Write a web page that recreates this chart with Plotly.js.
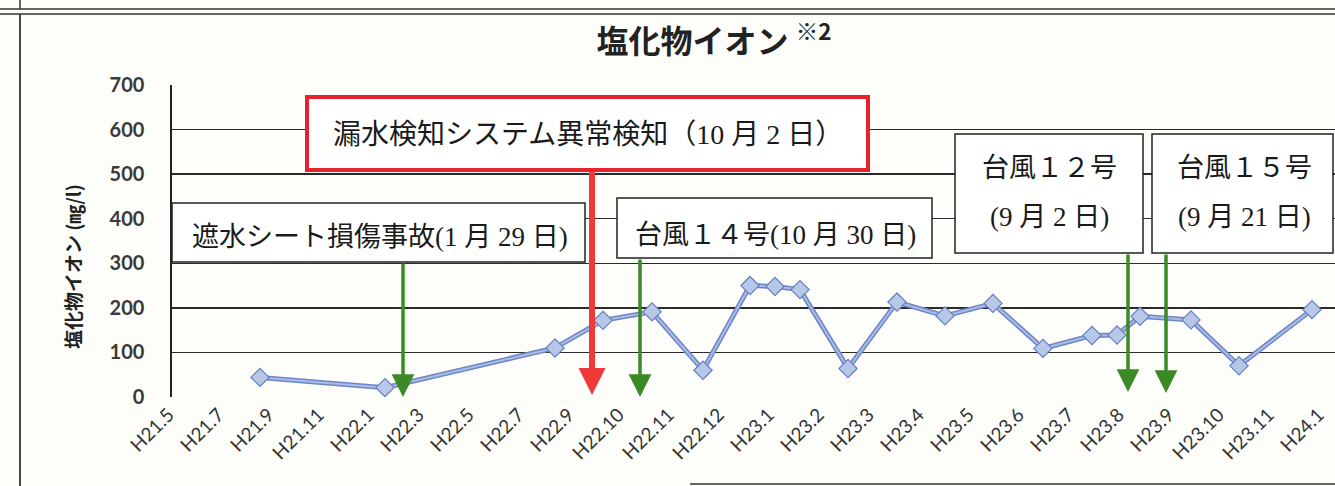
<!DOCTYPE html>
<html>
<head>
<meta charset="utf-8">
<script src="https://cdn.plot.ly/plotly-3.0.1.min.js"></script>
<style>
html,body{margin:0;padding:0;background:#fdfdfa;overflow:hidden;}
#chart{width:1335px;height:486px;}
</style>
</head>
<body>
<div id="chart"></div>
<script>
// ---- data ----
const tickLabels = ['H21.5','H21.7','H21.9','H21.11','H22.1','H22.3','H22.5','H22.7','H22.9','H22.10','H22.11','H22.12','H23.1','H23.2','H23.3','H23.4','H23.5','H23.6','H23.7','H23.8','H23.9','H23.10','H23.11','H24.1'];
// sample positions along the category axis (label index units)
const samplePos = [1.75, 4.25, 7.65, 8.61, 9.59, 10.61, 11.55, 12.05, 12.55, 13.51, 14.49, 15.45, 16.41, 17.41, 18.39, 18.89, 19.35, 20.37, 21.33, 22.79];
// chloride ion (mg/l)
const chloride = [44, 21, 110, 172, 191, 60, 250, 248, 241, 64, 213, 182, 210, 109, 138, 139, 181, 173, 70, 196];
const titleText = '塩化物イオン <sup>※2</sup>';
const yTitle = '塩化物イオン (㎎/l)';
const eventLine1 = ['遮水シート損傷事故(1 月 29 日)', '漏水検知システム異常検知（10 月 2 日）', '台風１４号(10 月 30 日)', '台風１２号', '台風１５号'];
const eventLine2 = ['', '', '', '(9 月 2 日)', '(9 月 21 日)'];

// ---- layout geometry (pixels) ----
const W = 1335, Hh = 486;
const L = 172, R = 1335, T = 85, B = 397;
const PW = R - L, PH = B - T;
const P = px => (px - L) / PW;
const Q = py => (B - py) / PH;
const idx = px => (px - 172.5) / 50;

const serif = 'Liberation Serif, Noto Sans CJK JP, serif';
const cjk = 'Noto Sans CJK JP, sans-serif';

const under = {
  x: samplePos, y: chloride, type: 'scatter', mode: 'lines',
  line: {color: '#6f86c6', width: 5},
  hoverinfo: 'skip', showlegend: false
};
const trace = {
  x: samplePos, y: chloride, type: 'scatter', mode: 'lines+markers',
  line: {color: '#a9bce8', width: 2},
  marker: {symbol: 'diamond', size: 14, color: '#b7c7e8', line: {color: '#6580c2', width: 1.2}},
  hoverinfo: 'skip', showlegend: false
};

function box(x0, y0, x1, y1, color, w) {
  return {type:'rect', xref:'paper', yref:'paper', x0:P(x0), x1:P(x1), y0:Q(y1), y1:Q(y0),
    fillcolor:'#ffffff', line:{color:color, width:w}, layer:'above'};
}
function line(x0, y0, x1, y1, w) {
  return {type:'line', xref:'paper', yref:'paper', x0:P(x0), x1:P(x1), y0:Q(y0), y1:Q(y1),
    line:{color:'#333', width:w}, layer:'above'};
}
const shapes = [
  line(0, 9, 1335, 9, 1.5),
  line(0, 14, 1335, 14, 1.5),
  line(20, 0, 20, 9, 1.5),
  line(20, 14, 20, 486, 1.8),
  line(690, 484, 1335, 484, 1.5),
  box(172, 203, 585, 262, '#222', 1.5),
  box(307, 97, 868, 170, '#e8222c', 4),
  box(617, 198, 932, 258, '#222', 1.5),
  box(955, 134, 1143, 253, '#222', 1.5),
  box(1152, 134, 1333, 253, '#222', 1.5)
];

function label(text, cx, cy, size) {
  return {xref:'paper', yref:'paper', x:P(cx), y:Q(cy), xanchor:'center', yanchor:'middle',
    text:text, showarrow:false, font:{family:serif, size:size, color:'#1a1a1a'}};
}
function arrow(px, y0, y1, color, width, size) {
  return {xref:'paper', yref:'paper', x:P(px), y:Q(y1), ax:0, ay:-(y1 - y0), text:'',
    showarrow:true, arrowhead:2, arrowsize:size, arrowwidth:width, arrowcolor:color, standoff:0};
}
const annotations = [
  label(eventLine1[0], 380, 237, 27),
  label(eventLine1[1], 588, 134, 28),
  label(eventLine1[2], 775, 235, 27),
  label(eventLine1[3], 1049, 168, 27),
  label(eventLine2[3], 1049, 217, 27),
  label(eventLine1[4], 1244, 168, 27),
  label(eventLine2[4], 1244, 217, 27),
  arrow(403, 262, 397, '#3b8a27', 3.5, 1.3),
  arrow(592, 170, 395, '#f03a3a', 6, 0.9),
  arrow(640, 258, 397, '#3b8a27', 3.5, 1.3),
  arrow(1128, 253, 392, '#3b8a27', 3.5, 1.3),
  arrow(1166, 253, 393, '#3b8a27', 3.5, 1.3),
  {xref:'paper', yref:'paper', x:P(72), y:Q(267), xanchor:'center', yanchor:'middle', text:yTitle,
   textangle:-90, showarrow:false, font:{family:cjk, size:19, weight:'bold', color:'#222'}}
];

const layout = {
  width: W, height: Hh,
  margin: {l: L, r: W - R, t: T, b: Hh - B, pad: 0},
  paper_bgcolor: '#fdfdfa', plot_bgcolor: '#fdfdfa',
  title: {text: titleText, x: 714 / W, xref: 'container', xanchor: 'center',
          y: 1 - 42 / Hh, yref: 'container', yanchor: 'middle',
          font: {family: cjk, size: 32, weight: 'bold', color: '#222'}},
  xaxis: {range: [idx(L), idx(R)], tickmode: 'array',
          tickvals: tickLabels.map((_, i) => i), ticktext: tickLabels,
          tickangle: -45, showgrid: false, zeroline: false, showline: false, ticks: '',
          tickfont: {family: 'Lato, Open Sans, sans-serif', size: 19, color: '#333'},
          ticklabelstandoff: 2, ticklabelshift: -4, fixedrange: true},
  yaxis: {range: [0, 700], dtick: 100, tick0: 0, showgrid: true, gridcolor: '#2a2a2a', gridwidth: 1.3,
          zeroline: false, showline: true, linecolor: '#222', linewidth: 1.6, ticks: '',
          tickfont: {family: 'Lato, Open Sans, sans-serif', size: 20, weight: 'bold', color: '#3a3a3a'},
          ticklabelstandoff: 22, fixedrange: true},
  shapes: shapes,
  annotations: annotations
};

Plotly.newPlot('chart', [under, trace], layout, {displayModeBar: false, staticPlot: true});
</script>
</body>
</html>
